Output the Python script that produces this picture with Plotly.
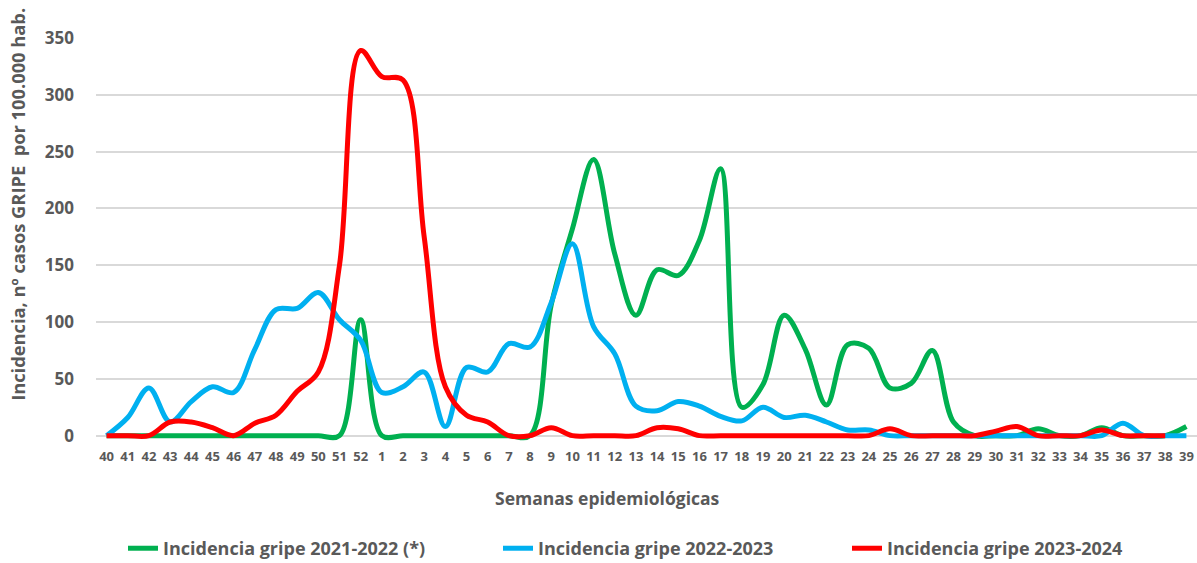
import plotly.graph_objects as go

weeks = ["40", "41", "42", "43", "44", "45", "46", "47", "48", "49", "50", "51", "52",
         "1", "2", "3", "4", "5", "6", "7", "8", "9", "10", "11", "12", "13", "14",
         "15", "16", "17", "18", "19", "20", "21", "22", "23", "24", "25", "26", "27",
         "28", "29", "30", "31", "32", "33", "34", "35", "36", "37", "38", "39"]

gripe_2021_2022 = [0, 0, 0, 0, 0, 0, 0, 0, 0, 0, 0, 0, 102,
                   0, 0, 0, 0, 0, 0, 0, 0, 115, 182, 243, 160, 106, 146,
                   141, 172, 235, 25, 45, 106, 76, 27, 80, 77, 42, 46, 75,
                   12, 0, 0, 0, 6, 0, 0, 7, 0, 0, 0, 8]

gripe_2022_2023 = [0, 16, 42, 12, 30, 43, 38, 76, 111, 112, 126, 102, 84,
                   38, 43, 56, 8, 60, 56, 81, 78, 117, 169, 96, 72, 26, 22,
                   30, 26, 17, 13, 25, 16, 18, 12, 5, 5, 0, 0, 0,
                   0, 0, 0, 0, 0, 0, 0, 0, 11, 0, 0, 0]

gripe_2023_2024 = [0, 0, 0, 12, 12, 7, 0, 11, 18, 39, 56, 150, 339,
                   316, 313, 175, 43, 18, 12, 0, 0, 7, 0, 0, 0, 0, 7,
                   6, 0, 0, 0, 0, 0, 0, 0, 0, 0, 6, 0, 0,
                   0, 0, 4, 8, 0, 0, 0, 5, 0, 0, 0, None]

names = ["Incidencia gripe 2021-2022 (*)", "Incidencia gripe 2022-2023", "Incidencia gripe 2023-2024"]
colors = ["#00B050", "#00B0F0", "#FF0000"]
series = [gripe_2021_2022, gripe_2022_2023, gripe_2023_2024]
y_ticks = [0, 50, 100, 150, 200, 250, 300, 350]

FONT = "Open Sans"
GRAY = "#595959"

W, H = 1197, 563
Y_MIN, Y_MAX = -10, 350
L, R, T = 96, 0, 38
zero_px = 436
px_per_unit = (zero_px - T) / Y_MAX
bottom_px = zero_px - Y_MIN * px_per_unit
B = H - bottom_px
plot_w = W - L - R
plot_h = bottom_px - T

fig = go.Figure()
legend_ids = ["legend", "legend2", "legend3"]
for name, col, ys, lg in zip(names, colors, series, legend_ids):
    fig.add_trace(go.Scatter(
        x=weeks, y=ys, name=name, mode="lines",
        line=dict(color=col, width=5, shape="spline", smoothing=1),
        legend=lg, connectgaps=False,
    ))

legend_px = [123, 498, 847]
legend_y_px = 549
leg_common = dict(orientation="h", yanchor="middle", xanchor="left",
                  font=dict(family=FONT, size=18, color=GRAY, weight="bold"),
                  bgcolor="rgba(0,0,0,0)")
leg_y = -(legend_y_px - bottom_px) / plot_h
fig.update_layout(
    legend=dict(x=(legend_px[0] - L) / plot_w, y=leg_y, **leg_common),
    legend2=dict(x=(legend_px[1] - L) / plot_w, y=leg_y, **leg_common),
    legend3=dict(x=(legend_px[2] - L) / plot_w, y=leg_y, **leg_common),
)

fig.update_layout(
    width=W, height=H,
    margin=dict(l=L, r=R, t=T, b=B, pad=0, autoexpand=False),
    paper_bgcolor="white", plot_bgcolor="white",
    showlegend=True,
    font=dict(family=FONT, color=GRAY),
)

fig.update_xaxes(
    type="category", categoryorder="array", categoryarray=weeks,
    range=[-0.5, len(weeks) - 0.5], automargin=False,
    showgrid=False, zeroline=False, showline=False, ticks="",
    tickfont=dict(family=FONT, size=13, color=GRAY, weight="bold"),
    tickangle=0,
)
fig.update_yaxes(
    range=[Y_MIN, Y_MAX], tickvals=y_ticks, ticktext=[str(v) for v in y_ticks],
    automargin=False,
    showgrid=True, gridcolor="#D9D9D9", gridwidth=1.5,
    zeroline=False, showline=False, ticks="",
    tickfont=dict(family=FONT, size=17, color=GRAY, weight="bold"),
    ticklabelstandoff=21,
)

# x-axis title (offset to the left of the plot centre, as in the original)
fig.add_annotation(
    text="Semanas epidemiológicas",
    xref="paper", yref="paper",
    x=(607 - L) / plot_w, y=-(498 - bottom_px) / plot_h,
    xanchor="center", yanchor="middle", showarrow=False,
    font=dict(family=FONT, size=17.5, color=GRAY, weight="bold"),
)

# y-axis title
fig.add_annotation(
    text="Incidencia, nº casos GRIPE  por 100.000 hab.",
    xref="paper", yref="paper",
    x=(18 - L) / plot_w, y=(bottom_px - 205) / plot_h,
    xanchor="center", yanchor="middle", textangle=-90, showarrow=False,
    font=dict(family=FONT, size=18.3, color=GRAY, weight="bold"),
)

fig.write_html("out.html", config={"displayModeBar": False},
               post_script="document.body.style.margin='0px';")
